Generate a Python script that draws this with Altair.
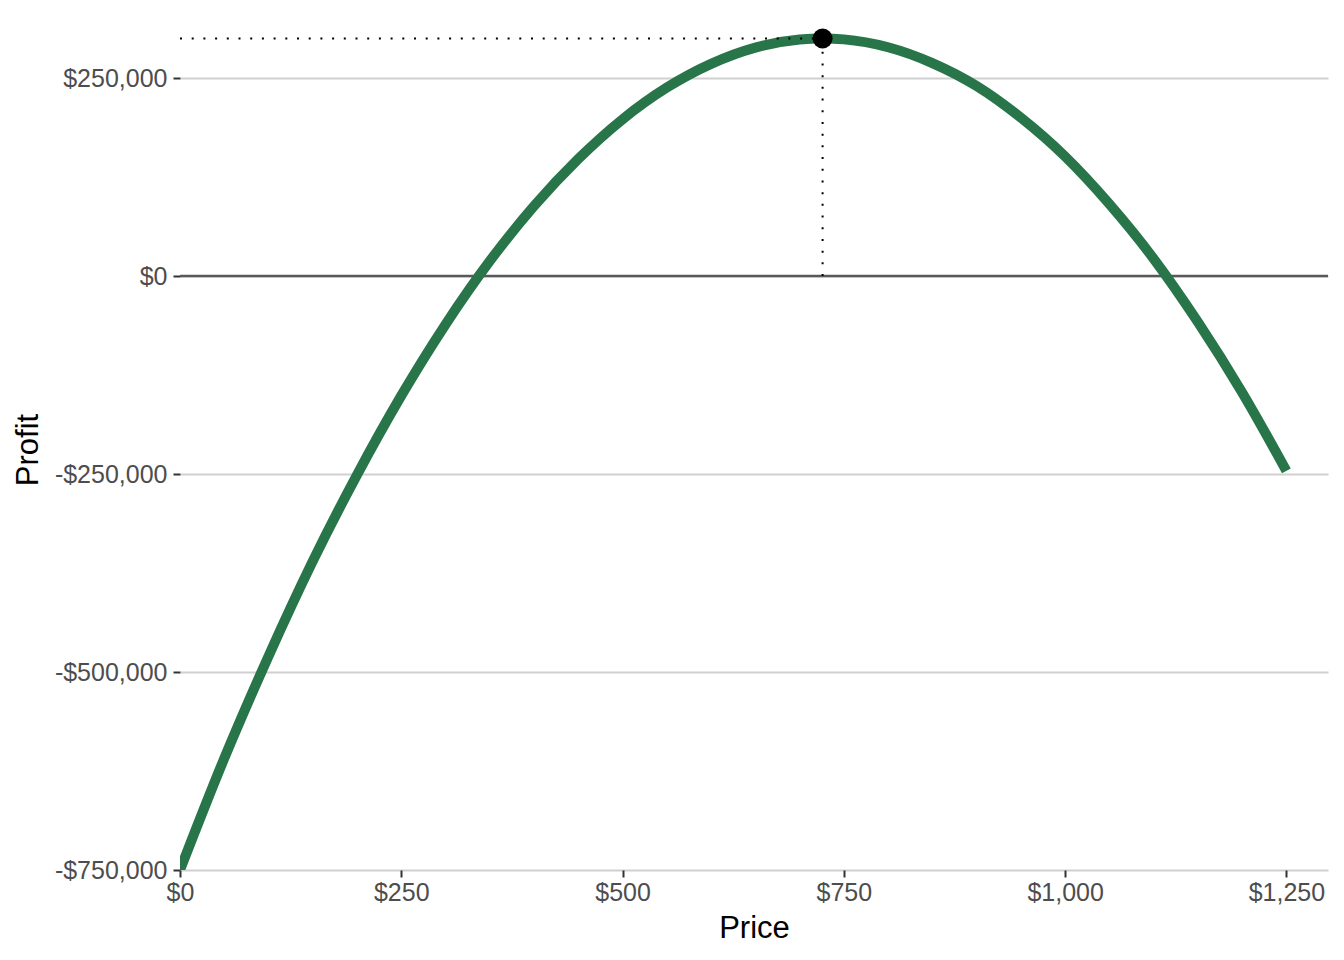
import altair as alt
import pandas as pd

prices = [0, 50, 100, 150, 200, 250, 300, 350, 400, 450, 500, 550, 600,
          650, 700, 726, 750, 800, 850, 900, 950, 1000, 1050, 1100, 1150, 1200, 1250]
profits = [-750000, -609000, -480000, -360000, -251000, -151000, -61000, 19000,
           88500, 148000, 198000, 238000, 268000, 288500, 298700, 300000, 298900,
           289000, 269000, 240000, 200000, 151000, 91000, 22000, -58000, -147000, -246000]

best_price = [726]
best_profit = [300000]

x_ticks = [0, 250, 500, 750, 1000, 1250]
y_ticks = [-750000, -500000, -250000, 0, 250000]

curve = pd.DataFrame({"Price": prices, "Profit": profits})
best = pd.DataFrame({"Price": best_price, "Profit": best_profit, "Start": [0], "Zero": [0]})

FONT = "Liberation Sans"

x_scale = alt.Scale(domain=[0, 1297], nice=False, zero=False)
y_scale = alt.Scale(domain=[-750000, 312000], nice=False, zero=False)

x_axis = alt.Axis(
    values=x_ticks, title="Price", grid=False, domain=False,
    labelExpr="'$' + format(datum.value, ',')",
    labelFont=FONT, labelFontSize=25, labelColor="#4D4D4D", labelPadding=3,
    tickColor="#333333", tickWidth=2, tickSize=7,
    titleFont=FONT, titleFontSize=31, titleFontWeight="normal", titleColor="#000000",
    titlePadding=8, labelFlush=False,
)
y_axis = alt.Axis(
    values=y_ticks, title="Profit", grid=True, gridColor="#D0D0D0", gridWidth=2,
    domain=False,
    labelExpr="(datum.value < 0 ? '-' : '') + '$' + format(abs(datum.value), ',')",
    labelFont=FONT, labelFontSize=25, labelColor="#4D4D4D", labelPadding=6,
    tickColor="#333333", tickWidth=2, tickSize=7,
    titleFont=FONT, titleFontSize=31, titleFontWeight="normal", titleColor="#000000",
    titlePadding=10,
)

base_x = alt.X("Price:Q", scale=x_scale, axis=x_axis)
base_y = alt.Y("Profit:Q", scale=y_scale, axis=y_axis)

line = alt.Chart(curve).mark_line(
    color="#28754A", strokeWidth=10, interpolate="monotone", clip=True
).encode(x=base_x, y=base_y)

zero = alt.Chart(best).mark_rule(color="#595959", strokeWidth=2.5).encode(
    y=alt.Y("Zero:Q", scale=y_scale)
)

hdot = alt.Chart(best).mark_rule(color="#000000", strokeWidth=2, strokeDash=[2, 9.7]).encode(
    x=alt.X("Start:Q", scale=x_scale), x2="Price:Q",
    y=alt.Y("Profit:Q", scale=y_scale)
)
vdot = alt.Chart(best).mark_rule(color="#000000", strokeWidth=2, strokeDash=[2, 9.7]).encode(
    x=alt.X("Price:Q", scale=x_scale),
    y=alt.Y("Zero:Q", scale=y_scale), y2="Profit:Q"
)

point = alt.Chart(best).mark_circle(color="#000000", size=400, opacity=1).encode(
    x=alt.X("Price:Q", scale=x_scale), y=alt.Y("Profit:Q", scale=y_scale)
)

chart = alt.layer(zero, line, hdot, vdot, point).properties(
    width=1148, height=841,
    autosize=alt.AutoSizeParams(type="none"),
    padding={"left": 172, "top": 21, "right": 8, "bottom": 90},
).configure(
    background="#FFFFFF",
    view=alt.ViewConfig(strokeWidth=0, stroke="transparent"),
)

chart.save("out.html", embed_options={"renderer": "svg", "actions": False})
